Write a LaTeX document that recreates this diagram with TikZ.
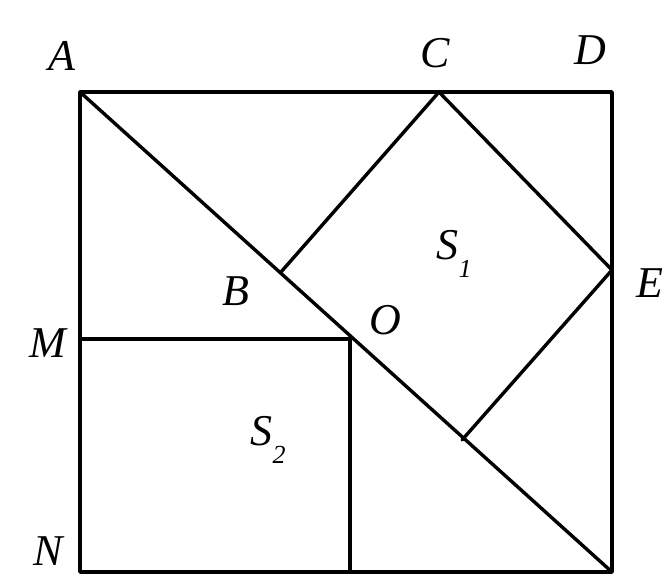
\documentclass[tikz,border=0pt]{standalone}
\usepackage{fontspec}
\setmainfont{Liberation Serif}
\newcommand{\lowsub}[1]{\raisebox{-0.4em}{\fontsize{26}{30}\selectfont #1}}
\begin{document}
\begin{tikzpicture}[
  x=1pt, y=-1pt,
  edge/.style={line width=3.4pt, line cap=round, line join=round},
  lab/.style={font=\fontsize{44}{52}\selectfont\itshape, inner sep=0pt}
]
\useasboundingbox (0,0) rectangle (671,579);
% points of the figure
\coordinate (A) at (80,92);
\coordinate (D) at (612,92);
\coordinate (F) at (612,572);
\coordinate (N) at (80,572);
\coordinate (M) at (80,339);
\coordinate (C) at (439,92);
\coordinate (E) at (612,270);
\coordinate (B) at (281,272);
\coordinate (O) at (350,339);
\coordinate (G) at (462,440);
\coordinate (H) at (350,572);

\draw[edge] (A) -- (D) -- (F) -- (N) -- cycle;
\draw[edge] (A) -- (F);
\draw[edge] (B) -- (C) -- (E) -- (G);
\draw[edge] (M) -- (O) -- (H);

% labels
\node[lab] (lA) at (62,56)   {A};
\node[lab] (lC) at (435,53)  {C};
\node[lab] (lD) at (590,50)  {D};
\node[lab] (lE) at (650,283) {E};
\node[lab] (lB) at (236,291) {B};
\node[lab] (lO) at (385,320) {O};
\node[lab] (lM) at (48,343)  {M};
\node[lab] (lN) at (48,551)  {N};
\node[lab] (lS1) at (454,254) {S\lowsub{1}};
\node[lab] (lS2) at (268,440) {S\lowsub{2}};
\end{tikzpicture}
\end{document}
